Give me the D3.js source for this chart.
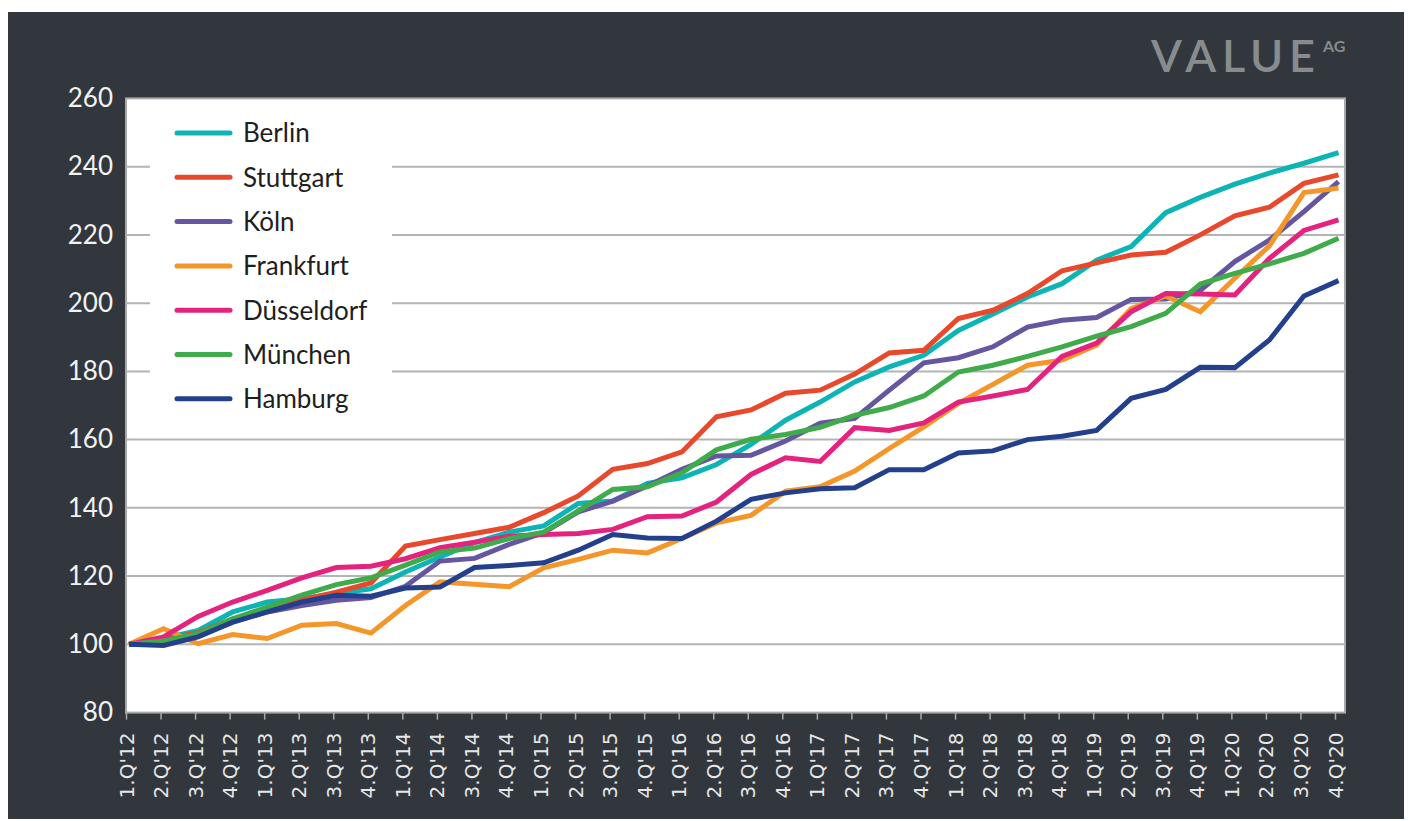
<!DOCTYPE html>
<html>
<head>
<meta charset="utf-8">
<script src="https://cdn.jsdelivr.net/npm/d3@7"></script>
<style>
  html, body { margin: 0; padding: 0; background: #ffffff; }
  svg { display: block; }
</style>
</head>
<body>
<svg class="chart" width="1408" height="821"></svg>
<script>
// quarters 1.Q'12 ... 4.Q'20
const years = ['12', '13', '14', '15', '16', '17', '18', '19', '20'];
const quarters = [];
years.forEach(y => { for (let q = 1; q <= 4; q++) quarters.push(`${q}.Q'${y}`); });

const yTicks = [80, 100, 120, 140, 160, 180, 200, 220, 240, 260];

const cities = ['Berlin', 'Stuttgart', 'Köln', 'Frankfurt', 'Düsseldorf', 'München', 'Hamburg'];
const colors = ['#0db4b6', '#e8482b', '#6656a0', '#f5962a', '#e4237f', '#40ab4a', '#243f8b'];

const berlin = [100, 101.7, 104.1, 109.5, 112.4, 113.4, 114.9, 116.3, 121.2, 125.6, 129.8, 132.9,
    134.7, 141.3, 142, 147.2, 148.8, 152.7, 158.6, 165.7, 171, 176.9, 181.3, 184.7,
    192, 196.8, 201.8, 205.7, 212.6, 216.6, 226.5, 231, 234.9, 238.1, 241, 244.1];
const stuttgart = [100, 101.5, 103.4, 107.5, 110, 113, 115.3, 118, 128.8, 130.7, 132.5, 134.3,
    138.6, 143.5, 151.3, 153, 156.4, 166.7, 168.7, 173.6, 174.5, 179.2, 185.4, 186.2,
    195.5, 197.9, 202.8, 209.5, 211.8, 214.1, 214.9, 220, 225.6, 228.1, 235.1, 237.6];
const koeln = [100, 101.2, 102.6, 106.5, 109.5, 111.4, 112.9, 113.7, 117, 124.4, 125.2, 129.3,
    132.7, 138.8, 142, 146.4, 151.3, 155.2, 155.4, 159.6, 164.8, 166.2, 174.5, 182.5,
    184, 187.2, 193, 195, 195.8, 201.1, 201.2, 203.7, 212.2, 218.5, 226.8, 235.6];
const frankfurt = [100, 104.6, 100.2, 102.9, 101.7, 105.6, 106.1, 103.3, 111.4, 118.3, 117.6, 116.9,
    122.4, 124.9, 127.6, 126.8, 131, 135.6, 137.8, 144.9, 146.2, 150.8, 157.4, 163.7,
    170.6, 176.2, 181.8, 183.3, 187.7, 198.4, 202.1, 197.5, 207.3, 216.8, 232.4, 233.7];
const duesseldorf = [100, 102.2, 108.2, 112.4, 115.8, 119.5, 122.5, 122.9, 125.1, 128.3, 129.9, 131.7,
    132.2, 132.5, 133.7, 137.4, 137.6, 141.7, 149.8, 154.7, 153.6, 163.5, 162.7, 164.9,
    171, 172.8, 174.7, 184.4, 188.3, 197.5, 202.8, 202.7, 202.4, 213.1, 221.3, 224.4];
const muenchen = [100, 101, 103.1, 107.5, 110.9, 114.4, 117.5, 119.5, 123.2, 127.1, 128.2, 131,
    132.9, 139.1, 145.4, 146.2, 150.3, 157, 160.1, 161.5, 163.6, 167.1, 169.4, 172.8,
    179.8, 181.8, 184.4, 187.2, 190.3, 193.1, 197, 205.6, 208.7, 211.5, 214.6, 219];
const hamburg = [100, 99.7, 102.2, 106.5, 109.5, 112.4, 114.4, 114.1, 116.5, 116.8, 122.5, 123.1,
    123.9, 127.6, 132.2, 131.2, 131, 136.1, 142.5, 144.4, 145.6, 145.9, 151.2, 151.2,
    156.1, 156.7, 160, 161, 162.7, 172.1, 174.7, 181.2, 181.1, 189.2, 202.1, 206.6];

const seriesValues = [berlin, stuttgart, koeln, frankfurt, duesseldorf, muenchen, hamburg];

const plot = { left: 126, right: 1345, top: 98.4, bottom: 712.6 };
const panelColor = '#31373d';
const gridColor = '#b4b4b4';

const svg = d3.select('.chart');

// dark panel
svg.append('rect')
    .attr('x', 8).attr('y', 12)
    .attr('width', 1396).attr('height', 807)
    .attr('fill', panelColor);

// white plot area
svg.append('rect')
    .attr('x', plot.left).attr('y', plot.top)
    .attr('width', plot.right - plot.left).attr('height', plot.bottom - plot.top)
    .attr('fill', '#ffffff')
    .attr('stroke', '#a9a9a9')
    .attr('stroke-width', 2);

const xScale = d3.scalePoint()
    .domain(quarters)
    .range([129, 1338.5]);
const xTickScale = d3.scalePoint()
    .domain(quarters)
    .range([plot.left, 1335]);

const yScale = d3.scaleLinear()
    .domain([80, 260])
    .range([plot.bottom, plot.top]);

// gridlines
svg.append('g')
    .classed('grid', true)
    .selectAll('line')
    .data(yTicks.slice(1, -1))
    .enter().append('line')
    .attr('x1', plot.left).attr('x2', plot.right)
    .attr('y1', d => yScale(d)).attr('y2', d => yScale(d))
    .style('stroke', gridColor)
    .style('stroke-width', 2);

// y axis labels
const yAxis = svg.append('g')
    .classed('y-axis', true)
    .attr('transform', `translate(${plot.left},0)`)
    .call(d3.axisLeft(yScale).tickValues(yTicks).tickSize(0).tickPadding(13));
yAxis.select('.domain').remove();
yAxis.selectAll('text')
    .style('font-family', 'Lato, "Open Sans", sans-serif')
    .style('font-size', '26px')
    .style('fill', '#f2f2f2');

// x axis
const xAxis = svg.append('g')
    .classed('x-axis', true)
    .attr('transform', `translate(0,${plot.bottom})`)
    .call(d3.axisBottom(xTickScale).tickSize(7).tickSizeOuter(0));
xAxis.select('.domain').remove();
xAxis.selectAll('line')
    .style('stroke', '#a9a9a9')
    .style('stroke-width', 1.5);
xAxis.selectAll('text')
    .attr('transform', 'translate(0,20) rotate(-90)')
    .attr('x', 0).attr('y', 0)
    .attr('dy', '0.35em')
    .style('text-anchor', 'end')
    .style('font-family', '"DejaVu Sans", sans-serif')
    .style('font-size', '20px')
    .style('fill', '#e6e6e6');

// lines
const line = d3.line()
    .x((d, i) => xScale(quarters[i]))
    .y(d => yScale(d));

svg.append('g')
    .classed('lines', true)
    .selectAll('path')
    .data(seriesValues)
    .enter().append('path')
    .attr('d', line)
    .style('fill', 'none')
    .style('stroke', (d, i) => colors[i])
    .style('stroke-width', 5)
    .style('stroke-linejoin', 'miter');

// legend
const legend = svg.append('g').classed('legend', true);
legend.append('rect')
    .attr('x', 150).attr('y', 110)
    .attr('width', 242).attr('height', 310)
    .attr('fill', '#ffffff');

const legendItems = legend.selectAll('.item')
    .data(cities)
    .enter().append('g')
    .classed('item', true)
    .attr('transform', (d, i) => `translate(0,${133 + i * 44.3})`);
legendItems.append('line')
    .attr('x1', 177).attr('x2', 230)
    .attr('y1', 0).attr('y2', 0)
    .style('stroke', (d, i) => colors[i])
    .style('stroke-width', 5)
    .style('stroke-linecap', 'round');
legendItems.append('text')
    .attr('x', 243).attr('y', 0)
    .attr('dy', '0.36em')
    .text(d => d)
    .style('font-family', 'Lato, "Open Sans", sans-serif')
    .style('font-size', '26px')
    .style('fill', '#1e1e1e');

// logo
const logo = svg.append('g').classed('logo', true);
logo.append('text')
    .attr('x', 1151).attr('y', 72)
    .text('VALUE')
    .attr('textLength', 164)
    .style('font-family', 'Lato, sans-serif')
    .style('font-weight', 600)
    .style('font-size', '45px')
    .style('fill', '#878c8f');
logo.append('text')
    .attr('x', 1323).attr('y', 52)
    .text('AG')
    .style('font-family', 'Lato, sans-serif')
    .style('font-weight', 700)
    .style('font-size', '16px')
    .style('fill', '#878c8f');
</script>
</body>
</html>
